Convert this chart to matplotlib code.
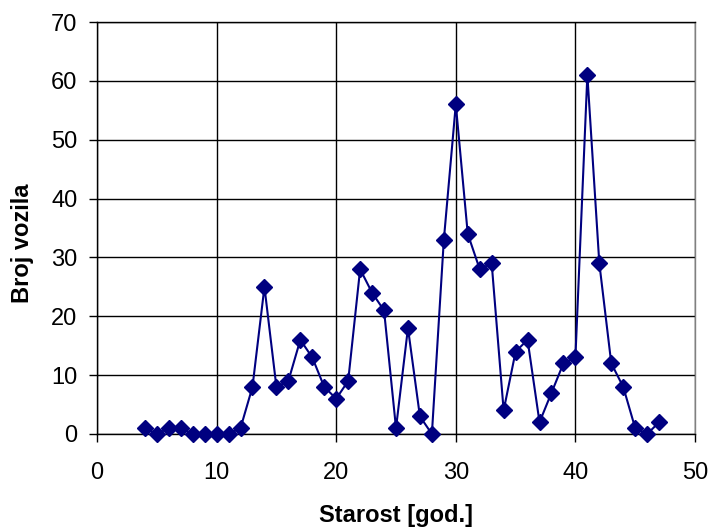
import matplotlib
matplotlib.use("Agg")
import matplotlib.pyplot as plt

plt.rcParams['font.family'] = ['Liberation Sans', 'DejaVu Sans']

starost = list(range(4, 48))
broj_vozila = [1, 0, 1, 1, 0, 0, 0, 0, 1, 8, 25, 8, 9, 16, 13, 8, 6, 9,
               28, 24, 21, 1, 18, 3, 0, 33, 56, 34, 28, 29, 4, 14, 16, 2,
               7, 12, 13, 61, 29, 12, 8, 1, 0, 2]

fig = plt.figure(figsize=(7.1, 5.31), dpi=100)
ax = fig.add_axes([97 / 710, 1 - 434 / 531, (695 - 97) / 710, (434 - 22) / 531])

ax.plot(starost, broj_vozila, color='#000080', linewidth=1.5,
        marker='D', markersize=8.5, markerfacecolor='#000080',
        markeredgecolor='#000080', clip_on=False, zorder=3)

ax.set_xlim(0, 50)
ax.set_ylim(0, 70)
ax.set_xticks(range(0, 51, 10))
ax.set_yticks(range(0, 71, 10))
ax.grid(True, color='black', linewidth=1)
ax.set_axisbelow(True)
for s in ax.spines.values():
    s.set_color('black')
    s.set_linewidth(1)
ax.spines['right'].set_color('#808080')
ax.tick_params(direction='out', length=6, width=1, labelsize=17)
ax.tick_params(axis='x', pad=14)
ax.tick_params(axis='y', pad=8)

ax.set_xlabel('Starost [god.]', fontsize=17, fontweight='bold')
ax.set_ylabel('Broj vozila', fontsize=17, fontweight='bold')
ax.xaxis.set_label_coords(0.5, -0.17)
ax.yaxis.set_label_coords(-0.106, 0.464)

fig.savefig('out.png', dpi=100)
